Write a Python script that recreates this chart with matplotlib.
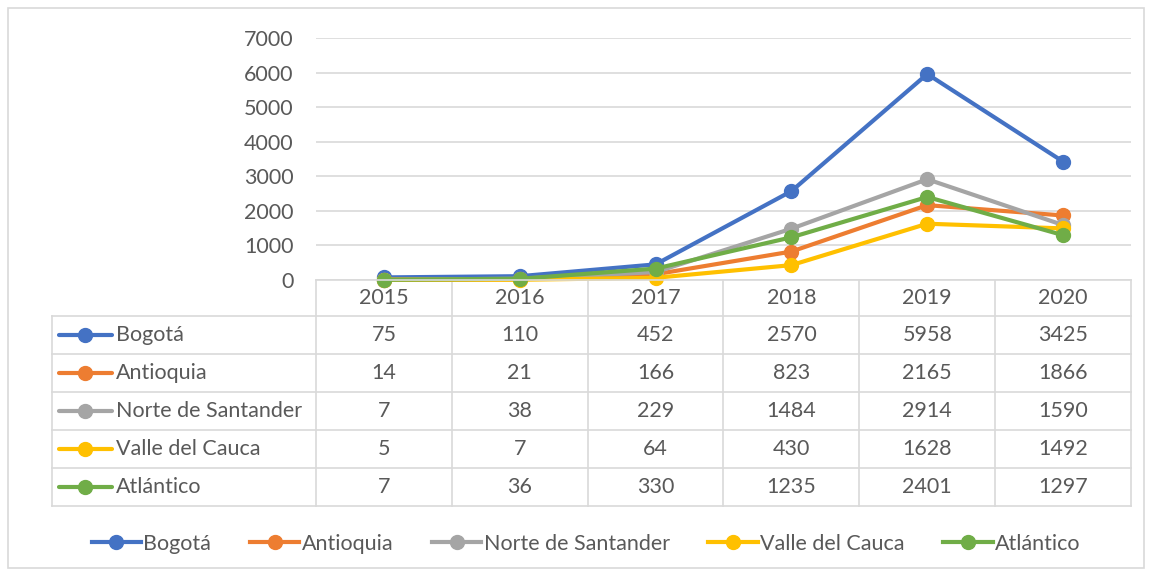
import matplotlib.pyplot as plt
from matplotlib.lines import Line2D
from matplotlib.patches import Rectangle

plt.rcParams['font.family'] = ['Lato', 'DejaVu Sans']

years = ['2015', '2016', '2017', '2018', '2019', '2020']
regions = ['Bogotá', 'Antioquia', 'Norte de Santander', 'Valle del Cauca', 'Atlántico']
bogota = [75, 110, 452, 2570, 5958, 3425]
antioquia = [14, 21, 166, 823, 2165, 1866]
norte = [7, 38, 229, 1484, 2914, 1590]
valle = [5, 7, 64, 430, 1628, 1492]
atlantico = [7, 36, 330, 1235, 2401, 1297]
series = [bogota, antioquia, norte, valle, atlantico]
colors = ['#4472C4', '#ED7D31', '#A5A5A5', '#FFC000', '#70AD47']

W, H = 1151, 575
txt = '#595959'
grid = '#D9D9D9'
fs = 15.5

fig = plt.figure(figsize=(W / 100, H / 100), dpi=100)

# plot area in pixel terms
left, right, top, bottom = 316, 1131, 38, 280
ax = fig.add_axes([left / W, 1 - bottom / H, (right - left) / W, (bottom - top) / H])
x = list(range(len(years)))
for vals, c, name in zip(series, colors, regions):
    ax.plot(x, vals, color=c, lw=3, marker='o', ms=10, label=name,
            solid_capstyle='round', clip_on=False)
ax.set_xlim(-0.5, len(years) - 0.5)
ax.set_ylim(0, 7000)
ax.set_yticks(range(0, 7001, 1000))
ax.set_xticks([])
ax.tick_params(axis='y', length=0, pad=16, labelsize=fs, labelcolor=txt)
ax.grid(axis='y', color=grid, lw=1.2)
ax.set_axisbelow(True)
for s in ['left', 'right', 'top']:
    ax.spines[s].set_visible(False)
ax.spines['bottom'].set_color(grid)
ax.spines['bottom'].set_linewidth(1.2)

# overlay in pixel coordinates for the data table
ov = fig.add_axes([0, 0, 1, 1], zorder=-1)
ov.set_xlim(0, W)
ov.set_ylim(H, 0)
ov.axis('off')
ov.add_patch(Rectangle((8, 8), 1136, 560, fill=False, ec=grid, lw=1.2))

colw = (right - left) / len(years)
head_b = 316
rowh = 38
tab_left = 52
tab_b = head_b + rowh * len(regions)

for i in range(len(years) + 1):
    xc = left + i * colw
    ov.plot([xc, xc], [bottom, tab_b], color=grid, lw=1.2)
for j in range(len(regions) + 1):
    yr = head_b + j * rowh
    ov.plot([tab_left, right], [yr, yr], color=grid, lw=1.2)
ov.plot([tab_left, tab_left], [head_b, tab_b], color=grid, lw=1.2)

for i, yr in enumerate(years):
    ov.text(left + (i + 0.5) * colw, (bottom + head_b) / 2, yr, ha='center',
            va='center', fontsize=fs, color=txt)

for j, (name, vals, c) in enumerate(zip(regions, series, colors)):
    yc = head_b + (j + 0.5) * rowh
    ov.add_line(Line2D([59, 112], [yc, yc], color=c, lw=3, solid_capstyle='round'))
    ov.plot([85.5], [yc], marker='o', ms=10, color=c)
    ov.text(116, yc, name, ha='left', va='center', fontsize=fs, color=txt)
    for i, v in enumerate(vals):
        ov.text(left + (i + 0.5) * colw, yc, str(v), ha='center', va='center',
                fontsize=fs, color=txt)

handles = [Line2D([], [], color=c, lw=3, marker='o', ms=10) for c in colors]
fig.legend(handles, regions, loc='center', bbox_to_anchor=(586 / W, 1 - 544 / H),
           ncol=5, frameon=False, fontsize=fs, labelcolor=txt, handlelength=2.3,
           handletextpad=0.1, columnspacing=1.8)

fig.savefig('out.png', dpi=100)
